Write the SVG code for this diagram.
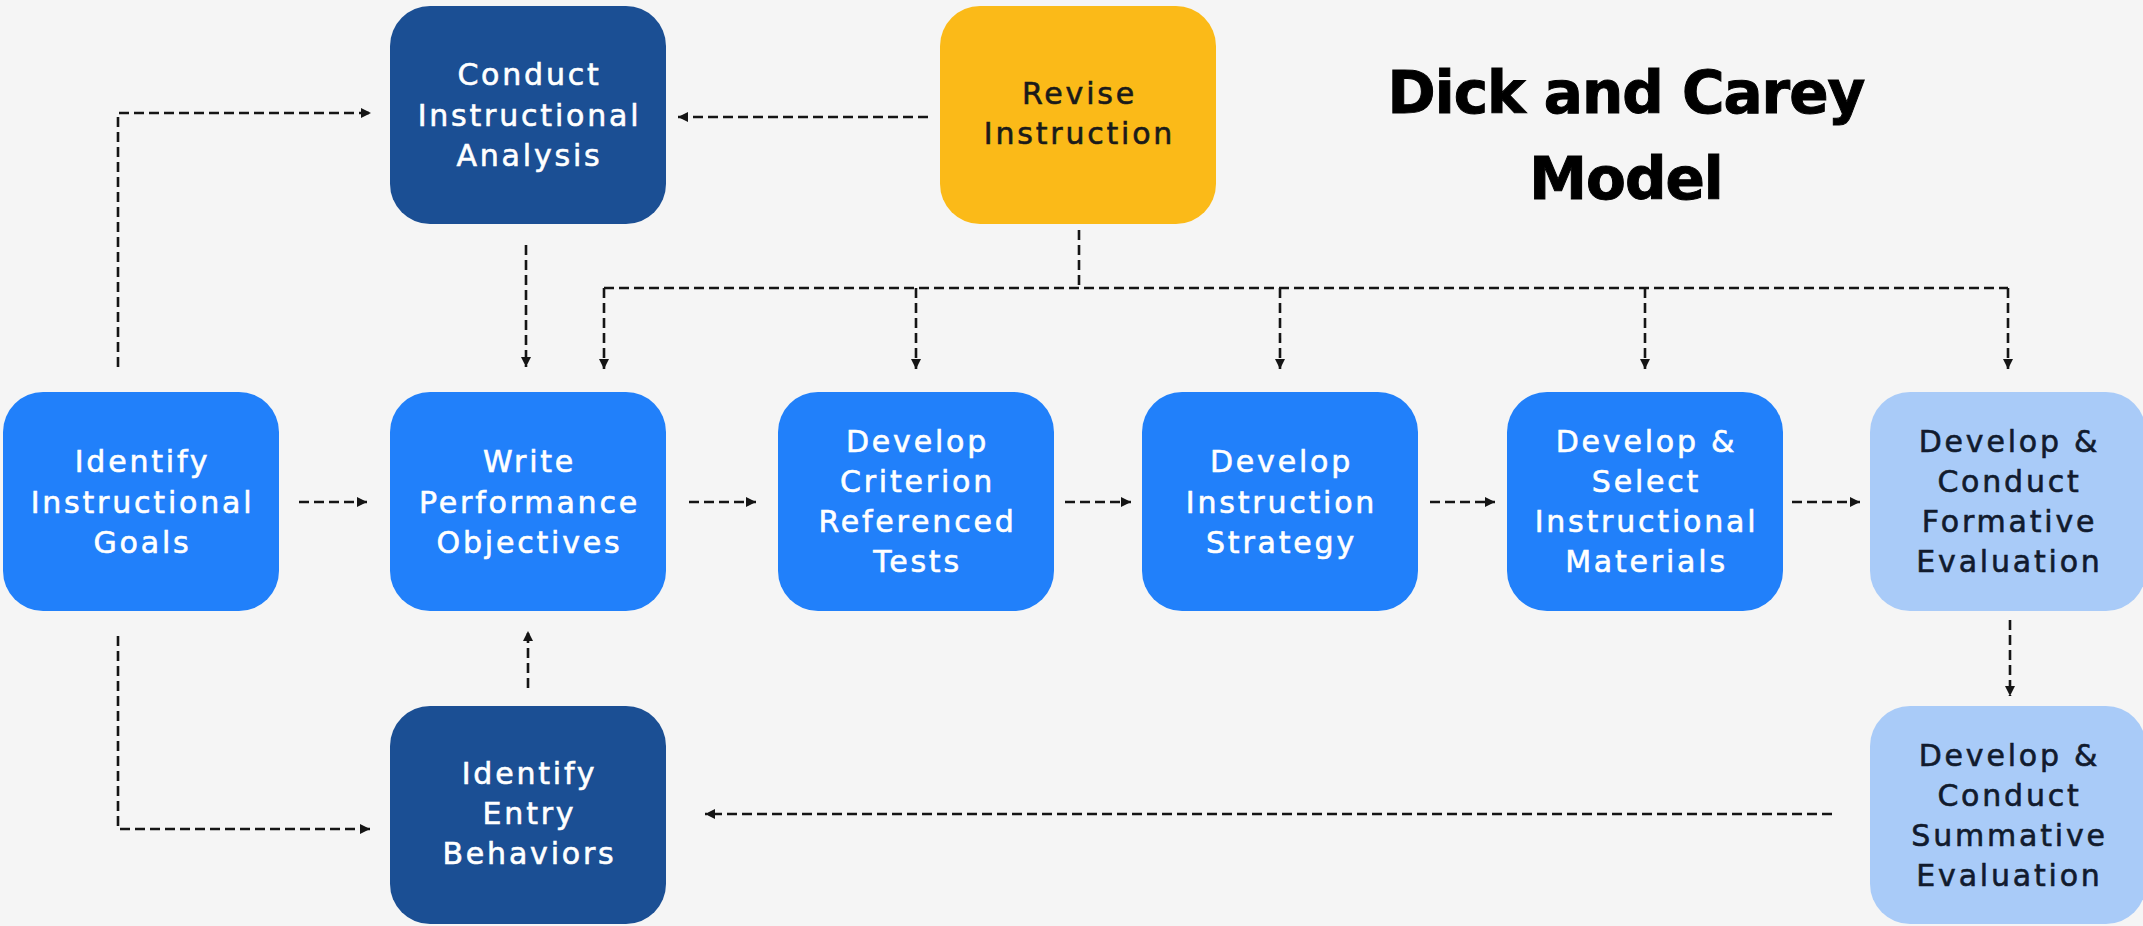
<svg xmlns="http://www.w3.org/2000/svg" width="2143" height="926" viewBox="0 0 2143 926">
<defs>
<style>
.bg{fill:#f5f5f5}
.dark{fill:#1b4f94}
.mid{fill:#2180fa}
.light{fill:#a9cbf8}
.yellow{fill:#fbba18}
.t{font-family:"DejaVu Sans","Liberation Sans",sans-serif;font-size:30px;letter-spacing:2.8px;text-anchor:middle;stroke-width:0.6px}
.w{fill:#ffffff;stroke:#ffffff}
.k{fill:#111b2e;stroke:#111b2e}
.title{font-family:"DejaVu Sans","Liberation Sans",sans-serif;font-size:58px;font-weight:bold;letter-spacing:-1px;text-anchor:middle;fill:#000;stroke:#000;stroke-width:1px}
.c{fill:none;stroke:#151515;stroke-width:2.6;stroke-dasharray:10 5}
.a{marker-end:url(#arr)}
</style>
<marker id="arr" markerUnits="userSpaceOnUse" markerWidth="14" markerHeight="14" refX="11" refY="7" orient="auto">
<path d="M1,2 L11,7 L1,12 Z" fill="#151515"/>
</marker>
</defs>
<rect class="bg" x="0" y="0" width="2143" height="926"/>

<g id="title">
<text class="title" x="1626" y="113">Dick and Carey</text>
<text class="title" x="1626" y="199">Model</text>
</g>

<g id="connectors">
<path class="c a" d="M118,367 V113 H371"/>
<path class="c a" d="M928,117 H678"/>
<path class="c a" d="M526,245 V367"/>
<path class="c" d="M1079,230 V288"/>
<path class="c" d="M604,288 H2008"/>
<path class="c a" d="M604,288 V369"/>
<path class="c a" d="M916,288 V369"/>
<path class="c a" d="M1280,288 V369"/>
<path class="c a" d="M1645,288 V369"/>
<path class="c a" d="M2008,288 V369"/>
<path class="c a" d="M299,502 H367"/>
<path class="c a" d="M689,502 H756"/>
<path class="c a" d="M1065,502 H1131"/>
<path class="c a" d="M1430,502 H1495"/>
<path class="c a" d="M1792,502 H1860"/>
<path class="c a" d="M118,636 V829 H370"/>
<path class="c a" d="M528,688 V631"/>
<path class="c a" d="M2010,620 V696"/>
<path class="c a" d="M1832,814 H705"/>
</g>

<g id="conduct-analysis">
<rect class="dark" x="390" y="6" width="276" height="218" rx="40"/>
<text class="t w" x="529.5" y="85">Conduct</text>
<text class="t w" x="529.5" y="126">Instructional</text>
<text class="t w" x="529.5" y="166">Analysis</text>
</g>

<g id="revise-instruction">
<rect class="yellow" x="940" y="6" width="276" height="218" rx="40"/>
<text class="t k" x="1079.5" y="104" style="fill:#1a1a1a;stroke:#1a1a1a">Revise</text>
<text class="t k" x="1079.5" y="144" style="fill:#1a1a1a;stroke:#1a1a1a">Instruction</text>
</g>

<g id="identify-goals">
<rect class="mid" x="3" y="392" width="276" height="219" rx="40"/>
<text class="t w" x="142.5" y="472">Identify</text>
<text class="t w" x="142.5" y="513">Instructional</text>
<text class="t w" x="142.5" y="553">Goals</text>
</g>

<g id="write-objectives">
<rect class="mid" x="390" y="392" width="276" height="219" rx="40"/>
<text class="t w" x="529.5" y="472">Write</text>
<text class="t w" x="529.5" y="513">Performance</text>
<text class="t w" x="529.5" y="553">Objectives</text>
</g>

<g id="criterion-tests">
<rect class="mid" x="778" y="392" width="276" height="219" rx="40"/>
<text class="t w" x="917.5" y="452">Develop</text>
<text class="t w" x="917.5" y="492">Criterion</text>
<text class="t w" x="917.5" y="532">Referenced</text>
<text class="t w" x="917.5" y="572">Tests</text>
</g>

<g id="instruction-strategy">
<rect class="mid" x="1142" y="392" width="276" height="219" rx="40"/>
<text class="t w" x="1281.5" y="472">Develop</text>
<text class="t w" x="1281.5" y="513">Instruction</text>
<text class="t w" x="1281.5" y="553">Strategy</text>
</g>

<g id="instructional-materials">
<rect class="mid" x="1507" y="392" width="276" height="219" rx="40"/>
<text class="t w" x="1646.5" y="452">Develop &amp;</text>
<text class="t w" x="1646.5" y="492">Select</text>
<text class="t w" x="1646.5" y="532">Instructional</text>
<text class="t w" x="1646.5" y="572">Materials</text>
</g>

<g id="formative-evaluation">
<rect class="light" x="1870" y="392" width="276" height="219" rx="40"/>
<text class="t k" x="2009.5" y="452">Develop &amp;</text>
<text class="t k" x="2009.5" y="492">Conduct</text>
<text class="t k" x="2009.5" y="532">Formative</text>
<text class="t k" x="2009.5" y="572">Evaluation</text>
</g>

<g id="entry-behaviors">
<rect class="dark" x="390" y="706" width="276" height="218" rx="40"/>
<text class="t w" x="529.5" y="784">Identify</text>
<text class="t w" x="529.5" y="824">Entry</text>
<text class="t w" x="529.5" y="864">Behaviors</text>
</g>

<g id="summative-evaluation">
<rect class="light" x="1870" y="706" width="276" height="218" rx="40"/>
<text class="t k" x="2009.5" y="766">Develop &amp;</text>
<text class="t k" x="2009.5" y="806">Conduct</text>
<text class="t k" x="2009.5" y="846">Summative</text>
<text class="t k" x="2009.5" y="886">Evaluation</text>
</g>
</svg>
